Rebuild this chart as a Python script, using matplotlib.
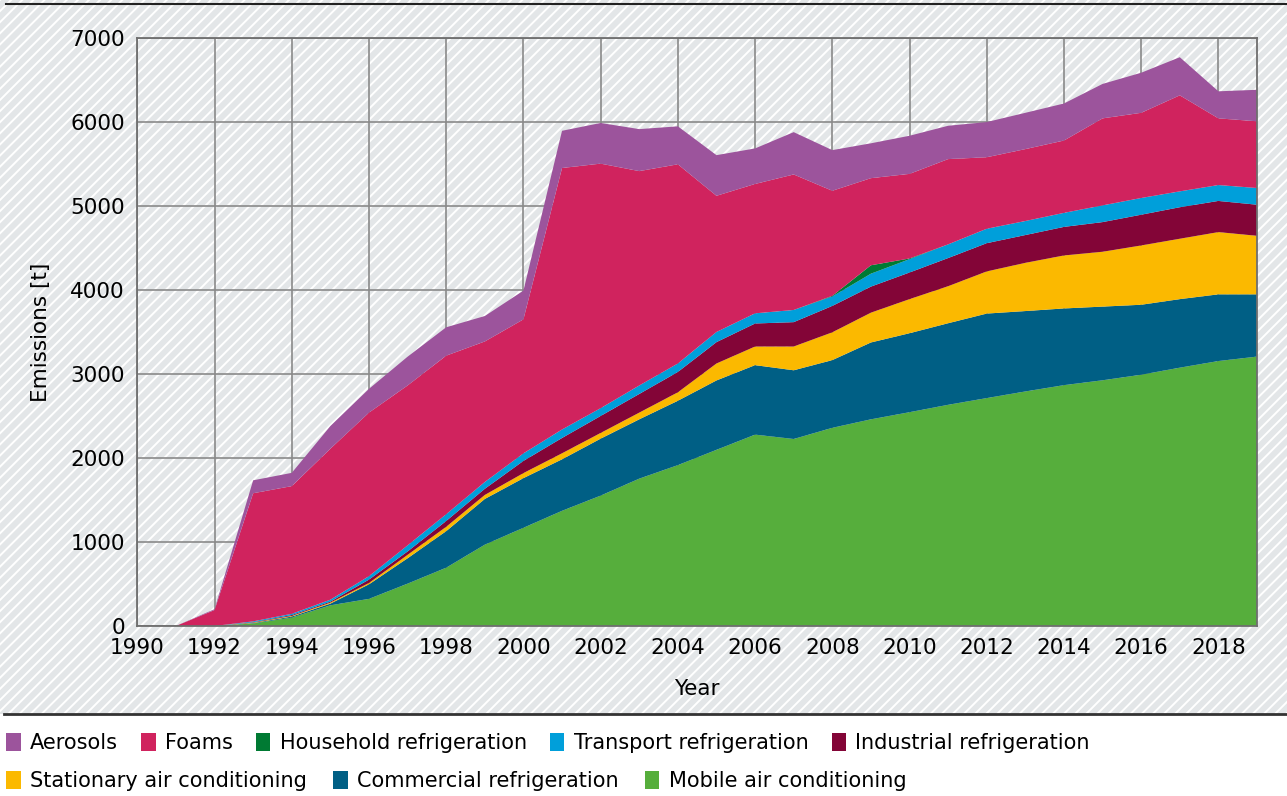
import numpy as np
import matplotlib
matplotlib.use("Agg")
import matplotlib.pyplot as plt
from matplotlib.patches import Rectangle, Patch
from matplotlib.lines import Line2D

years = list(range(1990, 2020))

# emissions in t per sector (stacked bottom -> top)
mobile_ac = [0, 0, 0, 30, 100, 246, 323, 504, 694, 968, 1169, 1371, 1552, 1754, 1915,
             2097, 2278, 2226, 2359, 2460, 2545, 2633, 2713, 2792, 2867, 2925, 2991, 3075, 3154, 3207]
commercial = [0, 0, 0, 5, 12, 20, 173, 302, 435, 544, 591, 613, 678, 706, 766,
              826, 827, 818, 806, 915, 940, 971, 1006, 957, 913, 877, 833, 816, 794, 741]
stationary_ac = [0, 0, 0, 5, 8, 12, 16, 41, 52, 48, 60, 72, 68, 80, 101,
                 202, 222, 283, 331, 355, 406, 441, 502, 574, 631, 653, 706, 719, 741, 697]
industrial = [0, 0, 0, 5, 10, 12, 40, 40, 69, 73, 145, 182, 202, 222, 242,
              254, 274, 290, 314, 310, 317, 335, 336, 331, 340, 353, 366, 375, 371, 370]
transport = [0, 0, 0, 10, 15, 23, 41, 73, 81, 81, 90, 101, 93, 101, 101,
             121, 121, 145, 113, 154, 159, 163, 172, 167, 167, 199, 199, 189, 189, 199]
household = [0, 0, 0, 0, 0, 0, 0, 0, 0, 0, 0, 0, 0, 0, 0,
             0, 0, 0, 7, 100, 8, 0, 0, 0, 0, 0, 0, 0, 0, 0]
foams = [0, 0, 190, 1525, 1520, 1797, 1947, 1903, 1887, 1673, 1595, 3113, 2911, 2552, 2371,
         1621, 1540, 1613, 1251, 1037, 1007, 1015, 851, 856, 861, 1036, 1014, 1143, 794, 794]
aerosols = [0, 0, 10, 154, 158, 270, 283, 343, 338, 303, 342, 443, 484, 500, 452,
            484, 423, 504, 484, 415, 454, 397, 419, 432, 441, 410, 477, 454, 322, 375]

labels_bottom_up = ["Mobile air conditioning", "Commercial refrigeration", "Stationary air conditioning",
                    "Industrial refrigeration", "Transport refrigeration", "Household refrigeration",
                    "Foams", "Aerosols"]
colors_bottom_up = ["#56ae3c", "#005f85", "#fbb900", "#830537", "#009fda", "#007a33", "#d0235e", "#9c549c"]

plt.rcParams['font.family'] = ['DejaVu Sans']
plt.rcParams['hatch.color'] = 'white'
plt.rcParams['hatch.linewidth'] = 1.4

fig = plt.figure(figsize=(12.87, 7.96), dpi=100)
fig.patch.set_facecolor('#e3e6e8')
fig.patch.set_edgecolor('white')
fig.patch.set_hatch('///')

# white legend strip and rules
fig.add_artist(Rectangle((0, 0), 1, 0.103, transform=fig.transFigure, facecolor='white',
                         edgecolor='none', zorder=0))
fig.add_artist(Line2D([0.003, 1], [0.103, 0.103], transform=fig.transFigure, color='#333333', lw=2))
fig.add_artist(Line2D([0.005, 1], [0.995, 0.995], transform=fig.transFigure, color='#222222', lw=1.5))

ax = fig.add_axes([0.1067, 0.2136, 0.87, 0.7387])
ax.set_facecolor('none')

ax.stackplot(years, mobile_ac, commercial, stationary_ac, industrial, transport, household, foams, aerosols,
             colors=colors_bottom_up, linewidth=0, zorder=2)

ax.set_xlim(1990, 2019)
ax.set_ylim(0, 7000)
ax.set_xticks(range(1990, 2019, 2))
ax.set_yticks(range(0, 7001, 1000))
ax.grid(True, color='#8a8a8a', lw=1.2, zorder=1)
ax.set_axisbelow(True)
ax.tick_params(length=0, labelsize=15.5, pad=9, colors='black')
for s in ax.spines.values():
    s.set_color('#6e6e6e')
    s.set_linewidth(1.3)
    s.set_zorder(3)

ax.set_xlabel("Year", fontsize=15.5, labelpad=15)
ax.set_ylabel("Emissions [t]", fontsize=15.5, labelpad=14)

# legend, two flowing rows (top of stack first)
handles = {lab: Patch(facecolor=c, edgecolor='none') for lab, c in zip(labels_bottom_up, colors_bottom_up)}
row1 = ["Aerosols", "Foams", "Household refrigeration", "Transport refrigeration", "Industrial refrigeration"]
row2 = ["Stationary air conditioning", "Commercial refrigeration", "Mobile air conditioning"]
for row, y, gap in [(row1, 1 - 743 / 796, 1.1), (row2, 1 - 781 / 796, 1.25)]:
    leg = fig.legend([handles[r] for r in row], row, loc='center left', bbox_to_anchor=(0.0, y),
                     ncol=len(row), frameon=False, fontsize=15, handlelength=0.7, handleheight=1.0,
                     handletextpad=0.45, columnspacing=gap, borderpad=0, borderaxespad=0.3)

fig.savefig("out.png", dpi=100)
